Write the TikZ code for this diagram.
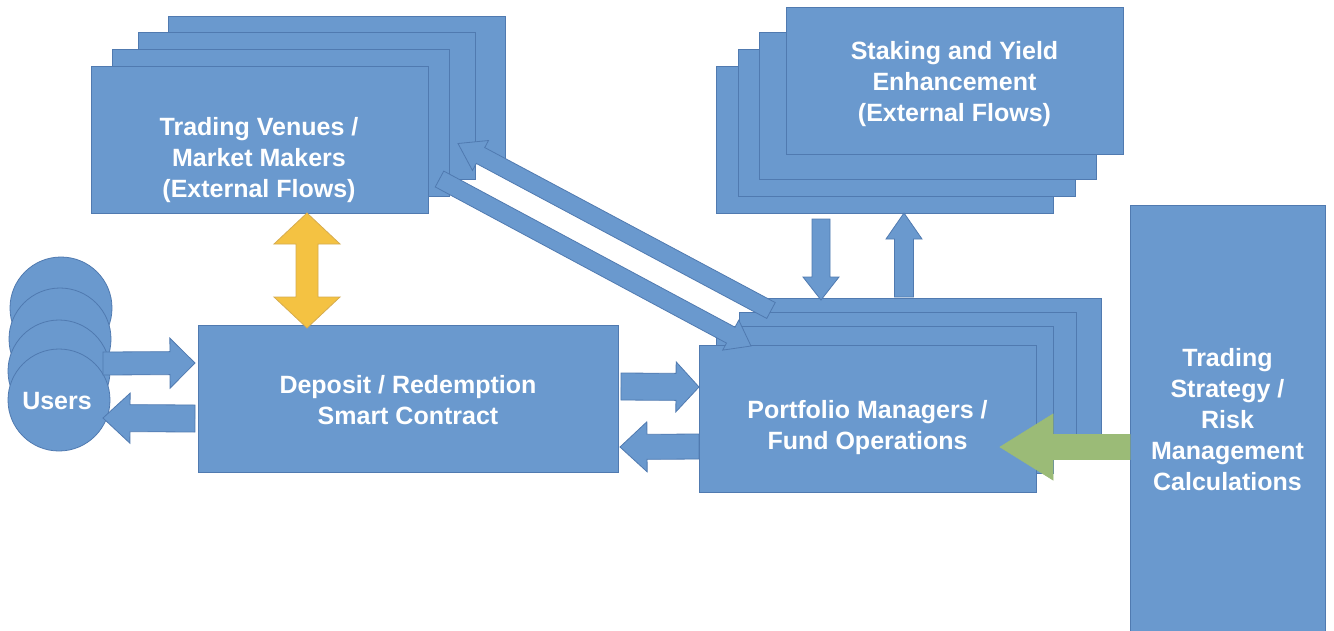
\documentclass[tikz,border=0pt]{standalone}
\usepackage{fontspec}
\setmainfont{Liberation Sans}
\usetikzlibrary{calc}
\definecolor{boxblue}{RGB}{106,153,206}
\definecolor{edgeblue}{RGB}{80,122,176}
\definecolor{arrowyellow}{RGB}{244,194,66}
\definecolor{yedge}{RGB}{214,172,80}
\definecolor{arrowgreen}{RGB}{155,187,119}
% #1 style, #2 tail, #3 tip, #4 shaft half width, #5 head half width, #6 head length
\newcommand{\blockarrow}[6]{%
  \coordinate (ba-h) at ($(#3)!#6!(#2)$);
  \draw[#1] ($(#2)!#4!90:(#3)$) -- ($(ba-h)!#4!90:(#3)$) -- ($(ba-h)!#5!90:(#3)$)
    -- (#3) -- ($(ba-h)!#5!-90:(#3)$) -- ($(ba-h)!#4!-90:(#3)$) -- ($(#2)!#4!-90:(#3)$) -- cycle;
}
% double-headed block arrow
\newcommand{\dblockarrow}[6]{%
  \coordinate (da-h1) at ($(#2)!#6!(#3)$);
  \coordinate (da-h2) at ($(#3)!#6!(#2)$);
  \draw[#1] (#2) -- ($(da-h1)!#5!90:(#3)$) -- ($(da-h1)!#4!90:(#3)$) -- ($(da-h2)!#4!90:(#3)$)
    -- ($(da-h2)!#5!90:(#3)$) -- (#3) -- ($(da-h2)!#5!-90:(#3)$) -- ($(da-h2)!#4!-90:(#3)$)
    -- ($(da-h1)!#4!-90:(#3)$) -- ($(da-h1)!#5!-90:(#3)$) -- cycle;
}
\begin{document}
\begin{tikzpicture}[x=1pt,y=-1pt,
  box/.style={draw=edgeblue, fill=boxblue, line width=0.8pt, minimum width=337pt,
    minimum height=147pt, inner sep=0pt, anchor=north west},
  userdisc/.style={circle, draw=edgeblue, fill=boxblue, line width=0.8pt, minimum size=102pt, inner sep=0pt},
  lbl/.style={text=white, font=\bfseries\fontsize{25}{31}\selectfont, align=center, inner sep=0pt},
  barrow/.style={draw=edgeblue, fill=boxblue, line width=0.8pt, line join=miter},
  yarrow/.style={draw=yedge, fill=arrowyellow, line width=0.8pt, line join=miter},
  garrow/.style={draw=arrowgreen, fill=arrowgreen, line width=0.6pt, line join=miter}]
\fill[white] (0,0) rectangle (1334,630);
\useasboundingbox (0,0) rectangle (1334,630);

% Trading venues stack
\node[box] (tv4) at (168,16) {};
\node[box] (tv3) at (138,32) {};
\node[box] (tv2) at (112,49) {};
\node[box] (tv1) at (91,66) {};
\node[lbl] (tvtext) at (259,160) {Trading Venues /\\Market Makers\\(External Flows)};

% Staking stack
\node[box] (st4) at (716,66) {};
\node[box] (st3) at (738,49) {};
\node[box] (st2) at (759,32) {};
\node[box] (st1) at (786,7) {};
\node[lbl] (sttext) at (954.5,84) {Staking and Yield\\Enhancement\\(External Flows)};

% Portfolio stack
\node[box] (pm4) at (764,298) {};
\node[box] (pm3) at (739,312) {};
\node[box] (pm2) at (716,326) {};
\node[box] (pm1) at (699,345) {};
\node[lbl] (pmtext) at (867.5,428) {Portfolio Managers /\\Fund Operations};

% Deposit
\node[box, minimum width=420pt] (dep) at (198,325) {};
\node[lbl] (deptext) at (408,400) {Deposit / Redemption\\Smart Contract};

% Strategy
\node[box, minimum width=195pt, minimum height=435pt] (strat) at (1130,205) {};
\node[lbl] (strattext) at (1227.5,419.5) {Trading\\Strategy /\\Risk\\Management\\Calculations};

% Users
\node[userdisc] (u4) at (61,308) {};
\node[userdisc] (u3) at (60,339) {};
\node[userdisc] (u2) at (59,371) {};
\node[userdisc] (u1) at (59,400) {};
\node[lbl] (utext) at (57,401) {Users};

% connector end points
\coordinate (u2d-s) at (103,363.5);  \coordinate (u2d-e) at (195,363);
\coordinate (d2u-s) at (195,418.5);  \coordinate (d2u-e) at (103,418);
\coordinate (d2p-s) at (621,386.5);  \coordinate (d2p-e) at (699,387);
\coordinate (p2d-s) at (699,446.5);  \coordinate (p2d-e) at (620,447);
\coordinate (tvd-a) at (307,213);    \coordinate (tvd-b) at (307,328);
\coordinate (s2p-s) at (821,219);    \coordinate (s2p-e) at (821,300);
\coordinate (p2s-s) at (904,297);    \coordinate (p2s-e) at (904,213);
\coordinate (r2p-s) at (1130,447);   \coordinate (r2p-e) at (1000,447);
\coordinate (t2p-s) at (439.5,179);  \coordinate (t2p-e) at (751,346);
\coordinate (p2t-s) at (771,310.5);  \coordinate (p2t-e) at (458,143.5);

% arrows
\blockarrow{barrow}{u2d-s}{u2d-e}{11.5pt}{25pt}{25pt}
\blockarrow{barrow}{d2u-s}{d2u-e}{13.5pt}{25pt}{27pt}
\blockarrow{barrow}{d2p-s}{d2p-e}{13.5pt}{25pt}{23pt}
\blockarrow{barrow}{p2d-s}{p2d-e}{12.5pt}{25pt}{27pt}
\dblockarrow{yarrow}{tvd-a}{tvd-b}{11pt}{33pt}{31pt}
\blockarrow{barrow}{s2p-s}{s2p-e}{9pt}{18pt}{23pt}
\blockarrow{barrow}{p2s-s}{p2s-e}{9.5pt}{18pt}{26pt}
\blockarrow{garrow}{r2p-s}{r2p-e}{12.5pt}{33pt}{53pt}
\blockarrow{barrow}{t2p-s}{t2p-e}{9pt}{17pt}{23pt}
\blockarrow{barrow}{p2t-s}{p2t-e}{9pt}{17pt}{25.5pt}
\end{tikzpicture}
\end{document}
